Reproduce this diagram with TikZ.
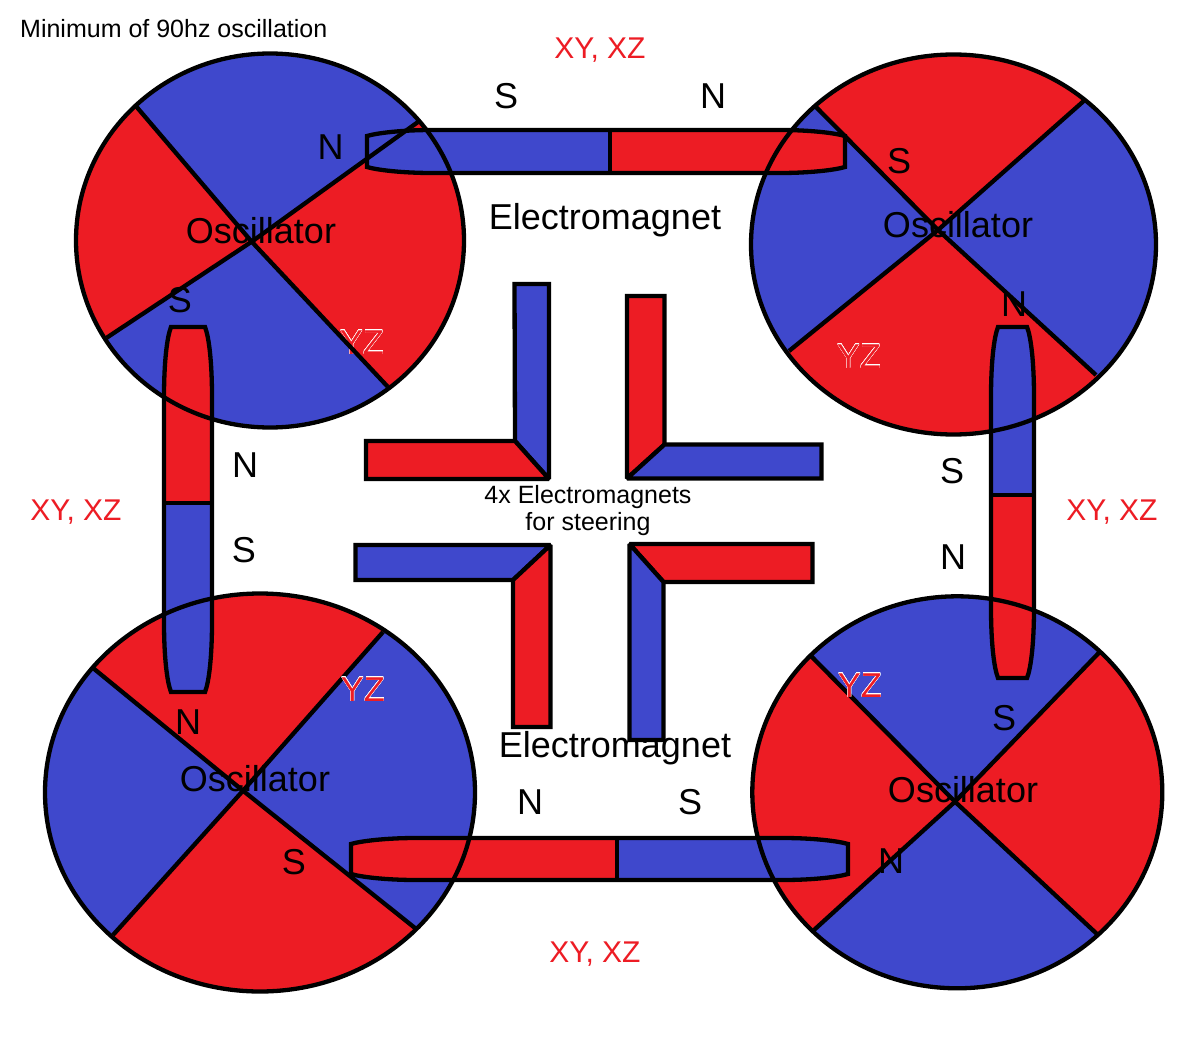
\documentclass[tikz,border=0pt]{standalone}
\usepackage{fontspec}
\usepackage{xcolor}
\usepackage[copies]{contour}
\setmainfont{Liberation Sans}
\usetikzlibrary{arrows.meta,positioning}
\definecolor{magred}{HTML}{ED1C24}
\definecolor{magblue}{HTML}{3F48CC}
\contourlength{0.2pt}
\contournumber{16}

\newcommand{\hmag}[7]{
  \fill[#6] (#3,#4) -- ({#1+65},#4) .. controls ({#1+35},#4) and ({#1+10},{#4+3}) .. (#1,{#4+6}) -- (#1,{#5-6}) .. controls ({#1+10},{#5-3}) and ({#1+35},#5) .. ({#1+65},#5) -- (#3,#5) -- cycle;
  \fill[#7] (#3,#4) -- ({#2-65},#4) .. controls ({#2-35},#4) and ({#2-10},{#4+3}) .. (#2,{#4+6}) -- (#2,{#5-6}) .. controls ({#2-10},{#5-3}) and ({#2-35},#5) .. ({#2-65},#5) -- (#3,#5) -- cycle;
  \draw[magline] (#3,#4) -- ({#1+65},#4) .. controls ({#1+35},#4) and ({#1+10},{#4+3}) .. (#1,{#4+6}) -- (#1,{#5-6}) .. controls ({#1+10},{#5-3}) and ({#1+35},#5) .. ({#1+65},#5) -- ({#2-65},#5) .. controls ({#2-35},#5) and ({#2-10},{#5-3}) .. (#2,{#5-6}) -- (#2,{#4+6}) .. controls ({#2-10},{#4+3}) and ({#2-35},#4) .. ({#2-65},#4) -- cycle;
  \draw[magline] (#3,#4) -- (#3,#5);
}
\newcommand{\vmag}[7]{
  \fill[#6] (#4,#3) -- (#4,{#1+70}) .. controls (#4,{#1+35}) and ({#4+3},{#1+10}) .. ({#4+7},#1) -- ({#5-7},#1) .. controls ({#5-3},{#1+10}) and (#5,{#1+35}) .. (#5,{#1+70}) -- (#5,#3) -- cycle;
  \fill[#7] (#4,#3) -- (#4,{#2-70}) .. controls (#4,{#2-35}) and ({#4+3},{#2-10}) .. ({#4+7},#2) -- ({#5-7},#2) .. controls ({#5-3},{#2-10}) and (#5,{#2-35}) .. (#5,{#2-70}) -- (#5,#3) -- cycle;
  \draw[magline] (#4,#3) -- (#4,{#1+70}) .. controls (#4,{#1+35}) and ({#4+3},{#1+10}) .. ({#4+7},#1) -- ({#5-7},#1) .. controls ({#5-3},{#1+10}) and (#5,{#1+35}) .. (#5,{#1+70}) -- (#5,{#2-70}) .. controls (#5,{#2-35}) and ({#5-3},{#2-10}) .. ({#5-7},#2) -- ({#4+7},#2) .. controls ({#4+3},{#2-10}) and (#4,{#2-35}) .. (#4,{#2-70}) -- cycle;
  \draw[magline] (#4,#3) -- (#5,#3);
}

\begin{document}
\begin{tikzpicture}[
  x=1pt, y=-1pt,
  magline/.style={draw=black, line width=4.3pt, miter limit=2},
  biglbl/.style={font=\fontsize{36}{37}\selectfont, anchor=base, inner sep=0pt},
  redlbl/.style={font=\fontsize{30}{31}\selectfont, text=magred, anchor=base, inner sep=0pt},
  yzlbl/.style={font=\fontsize{34.5}{36}\selectfont, text=magred, anchor=base, inner sep=0pt},
  smalllbl/.style={font=\fontsize{25}{27}\selectfont, align=center, inner sep=0pt}
]
\useasboundingbox (0,0) rectangle (1199,1054);
\fill[white] (0,0) rectangle (1199,1054);

\coordinate (farl) at (-60,0);
\coordinate (farr) at (1300,0);
\coordinate (disca) at (270,240.5);
\coordinate (huba) at (251.7,241.7);
\coordinate (ula) at (135,105);
\coordinate (ura) at (418,122);
\coordinate (lra) at (387.7,386.7);
\coordinate (lla) at (106.7,337.7);
\coordinate (discb) at (953.5,244.5);
\coordinate (hubb) at (938,230);
\coordinate (ulb) at (814,105);
\coordinate (urb) at (1086,99);
\coordinate (lrb) at (1096,375);
\coordinate (llb) at (789,351);
\coordinate (discc) at (260,792.5);
\coordinate (hubc) at (243,790.7);
\coordinate (ulc) at (93,668);
\coordinate (urc) at (383,632);
\coordinate (lrc) at (415,928);
\coordinate (llc) at (113,935);
\coordinate (discd) at (957.3,792.3);
\coordinate (hubd) at (955,801.7);
\coordinate (uld) at (811,656);
\coordinate (urd) at (1099,652.7);
\coordinate (lrd) at (1097,934);
\coordinate (lld) at (814,930);

\foreach \k/\rx/\ry/\main/\side in {a/194/187/magblue/magred, b/202.5/190/magred/magblue, c/215/199/magred/magblue, d/205/196/magblue/magred}{
  \begin{scope}
    \clip (disc\k) ellipse [x radius=\rx, y radius=\ry];
    \fill[\main] (disc\k) ellipse [x radius=\rx, y radius=\ry];
    \fill[\side] (hub\k) -- (ul\k) -- (ul\k -| farl) -- (ll\k -| farl) -- (ll\k) -- cycle;
    \fill[\side] (hub\k) -- (ur\k) -- (ur\k -| farr) -- (lr\k -| farr) -- (lr\k) -- cycle;
  \end{scope}
}

\hmag{367}{845}{610}{130}{173}{magblue}{magred}
\hmag{351}{848}{617}{838}{880}{magred}{magblue}
\vmag{327}{692}{503}{164}{212}{magred}{magblue}
\vmag{327}{678}{495}{991}{1034}{magblue}{magred}

\node[yzlbl] (yza) at (362,354) {\contour{white}{YZ}};

\foreach \k/\rx/\ry in {a/194/187, b/202.5/190, c/215/199, d/205/196}{
  \draw[magline] (disc\k) ellipse [x radius=\rx, y radius=\ry];
  \draw[magline] (ul\k) -- (hub\k) -- (lr\k);
  \draw[magline] (ur\k) -- (hub\k) -- (ll\k);
}

\node[biglbl] (embot) at (615,757) {Electromagnet};

\filldraw[magline, fill=magblue] (514.5,284) -- (549,284) -- (549,479) -- (515,441) -- cycle;
\filldraw[magline, fill=magred] (366,441) -- (515,441) -- (549,479) -- (366,479) -- cycle;
\filldraw[magline, fill=magred] (627,296) -- (664.5,296) -- (664.5,444.5) -- (627,478.5) -- cycle;
\filldraw[magline, fill=magblue] (664.5,444.5) -- (821.5,444.5) -- (821.5,478.5) -- (627,478.5) -- cycle;
\filldraw[magline, fill=magblue] (355.5,545) -- (550.5,545) -- (513,580) -- (355.5,580) -- cycle;
\filldraw[magline, fill=magred] (550.5,545) -- (550.5,727) -- (513,727) -- (513,580) -- cycle;
\filldraw[magline, fill=magred] (629.5,544) -- (812.5,544) -- (812.5,582) -- (663.5,582) -- cycle;
\filldraw[magline, fill=magblue] (629.5,544) -- (663.5,582) -- (663.5,740) -- (629.5,740) -- cycle;

\node[smalllbl, anchor=base west] (title) at (20,38) {Minimum of 90hz oscillation};
\node[smalllbl, anchor=center] (steer) at (588,511) {4x Electromagnets\\for steering};

\node[redlbl] (xytop) at (600,59) {XY, XZ};
\node[redlbl] (xybot) at (595,962) {XY, XZ};
\node[redlbl] (xyleft) at (76,520) {XY, XZ};
\node[redlbl] (xyright) at (1112,520) {XY, XZ};

\node[biglbl] (emtop) at (605,229) {Electromagnet};
\node[biglbl] (osca) at (261,243) {Oscillator};
\node[biglbl] (oscb) at (958,237) {Oscillator};
\node[biglbl] (oscc) at (255,791) {Oscillator};
\node[biglbl] (oscd) at (963,802) {Oscillator};

\node[biglbl] (stop) at (506,109) {S};
\node[biglbl] (ntop) at (713,109) {N};
\node[biglbl] (nbot) at (530,814) {N};
\node[biglbl] (sbot) at (690,814) {S};
\node[biglbl] (nleft) at (245,477) {N};
\node[biglbl] (sleft) at (244,562) {S};
\node[biglbl] (sright) at (952,483) {S};
\node[biglbl] (nright) at (953,569) {N};

\node[biglbl] (npa) at (330.5,160) {N};
\node[biglbl] (spa) at (180,312) {S};
\node[biglbl] (spb) at (899,173) {S};
\node[biglbl] (npb) at (1014,316) {N};
\node[biglbl] (npc) at (188,734) {N};
\node[biglbl] (spc) at (294,874) {S};
\node[biglbl] (spd) at (1004,730) {S};
\node[biglbl] (npd) at (891,873) {N};

\node[yzlbl] (yzb) at (859,368) {\contour{white}{YZ}};
\node[yzlbl] (yzc) at (363,701) {\contour{white}{YZ}};
\node[yzlbl] (yzd) at (860,697) {\contour{white}{YZ}};
\end{tikzpicture}
\end{document}
